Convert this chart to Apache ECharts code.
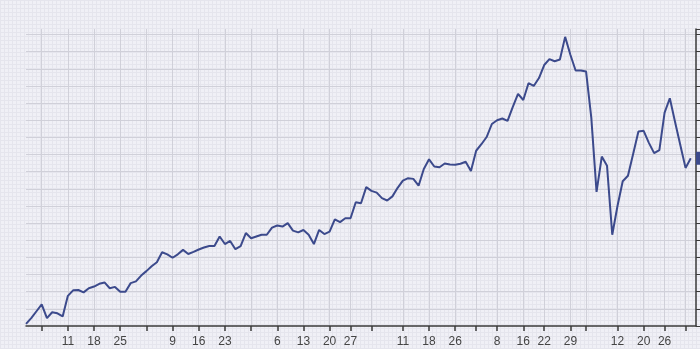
<!DOCTYPE html>
<html>
<head>
<meta charset="utf-8">
<script src="https://cdn.jsdelivr.net/npm/echarts@6/dist/echarts.min.js"></script>
<style>
  html, body { margin: 0; padding: 0; }
  /* graph-paper background */
  #chart {
    width: 700px;
    height: 349px;
    background-color: #f0f0f6;
    background-image:
      linear-gradient(to right, #e5e5ed 1px, transparent 1px),
      linear-gradient(to bottom, #e5e5ed 1px, transparent 1px);
    background-size: 4px 4px;
  }
</style>
</head>
<body>
<div id="chart"></div>
<script>
// price series, one value per trading day
const prices = [
  0.6, 2.3, 4.3, 6.3, 2.3, 4.0, 3.7, 2.8, 8.8, 10.4,
  10.5, 9.8, 11.0, 11.5, 12.3, 12.7, 11.0, 11.4, 10.0, 10.0,
  12.5, 13.0, 14.7, 16.0, 17.4, 18.6, 21.5, 20.9, 19.9, 20.9,
  22.2, 21.0, 21.6, 22.3, 22.9, 23.3, 23.3, 26.1, 23.9, 24.8,
  22.4, 23.3, 27.1, 25.6, 26.1, 26.6, 26.6, 28.7, 29.3, 29.0,
  30.0, 27.8, 27.3, 28.0, 26.6, 23.9, 28.0, 26.8, 27.5, 31.1,
  30.3, 31.4, 31.4, 36.1, 35.8, 40.5, 39.4, 38.9, 37.3, 36.6,
  37.8, 40.3, 42.4, 43.1, 42.9, 40.9, 45.8, 48.6, 46.5, 46.3,
  47.4, 47.1, 47.0, 47.3, 47.9, 45.2, 51.1, 53.0, 55.1, 58.9,
  60.0, 60.5, 59.8, 63.9, 67.7, 65.9, 70.8, 70.0, 72.3, 76.1,
  77.8, 77.2, 77.7, 84.3, 79.1, 74.5, 74.5, 74.2, 60.7, 39.1,
  49.4, 46.7, 26.6, 35.0, 42.2, 43.8, 50.2, 56.7, 56.9, 53.4,
  50.4, 51.3, 62.2, 66.4, 59.5, 52.8, 46.1, 48.9
];

// time scale ticks: index of the day and its label ('' = month start)
const tickAt = [3, 8, 13, 18, 23, 28, 33, 38, 43, 48, 53, 58, 62, 66,
                72, 77, 82, 86, 90, 95, 99, 104, 107, 113, 118, 122, 126];
const tickText = ['', '11', '18', '25', '', '9', '16', '23', '', '6', '13', '20', '27', '',
                  '11', '18', '26', '', '8', '16', '22', '29', '', '12', '20', '26', ''];

// one spare slot on the right of the last bar
const days = [];
for (let i = 0; i <= prices.length; i++) days.push(String(i));

const labelOf = {};
tickAt.forEach((d, k) => { labelOf[d] = tickText[k]; });
const isTick = (index) => index in labelOf;

const lastPrice = prices[prices.length - 1];

const chart = echarts.init(document.getElementById('chart'), null, { renderer: 'canvas' });

chart.setOption({
  backgroundColor: 'transparent',
  animation: false,
  grid: {
    left: 26,
    right: 4,
    top: 29,
    bottom: 23
  },
  xAxis: {
    type: 'category',
    data: days,
    boundaryGap: false,
    axisLine: { lineStyle: { color: '#3a3a3a', width: 1.5 } },
    axisTick: { interval: isTick, length: 5, lineStyle: { color: '#3a3a3a', width: 1.5 } },
    axisLabel: {
      interval: isTick,
      formatter: (v, i) => labelOf[i] || '',
      color: '#444',
      fontSize: 12,
      fontFamily: 'Liberation Sans, Arial, sans-serif',
      margin: 10
    },
    splitLine: { show: true, interval: isTick, lineStyle: { color: '#d0d0d9', width: 1 } }
  },
  yAxis: {
    type: 'value',
    position: 'right',
    min: 0,
    max: 86.6,
    interval: 5,
    axisLine: { show: true, lineStyle: { color: '#3a3a3a', width: 1.5 } },
    axisTick: { show: true, inside: false, length: 4, lineStyle: { color: '#3a3a3a' } },
    axisLabel: { show: false },
    splitLine: { show: true, showMaxLine: false, showMinLine: false, lineStyle: { color: '#d0d0d9', width: 1 } }
  },
  series: [{
    type: 'line',
    data: prices,
    symbol: 'none',
    smooth: false,
    clip: false,
    lineStyle: { color: '#3c4a8c', width: 2 },
    // last price tag on the price scale
    markLine: {
      silent: true,
      symbol: ['none', 'none'],
      lineStyle: { color: 'rgba(0,0,0,0)', width: 0, type: 'solid' },
      label: {
        show: true,
        position: 'end',
        distance: 0,
        backgroundColor: '#3c4a8c',
        color: '#fff',
        opacity: 1,
        fontSize: 11,
        padding: [1, 4],
        formatter: (p) => p.value.toFixed(2)
      },
      data: [{ yAxis: lastPrice }]
    }
  }]
});
</script>
</body>
</html>
